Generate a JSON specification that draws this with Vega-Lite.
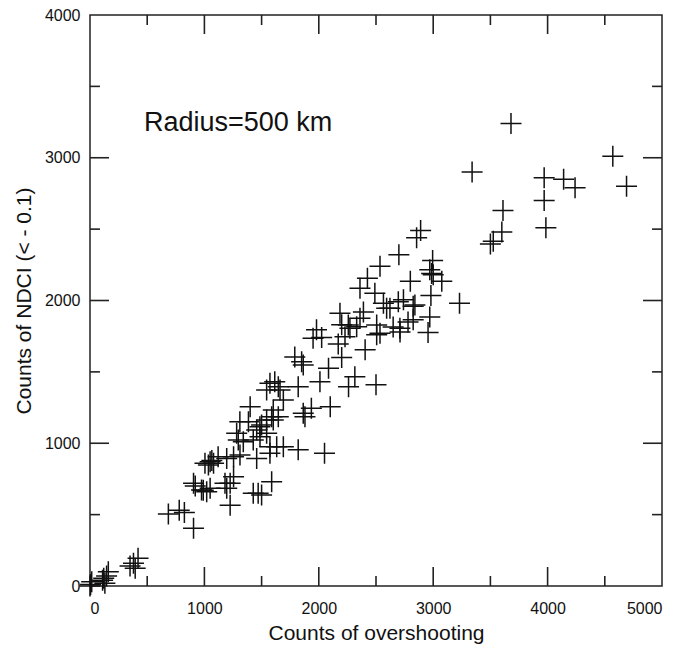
{
  "$schema": "https://vega.github.io/schema/vega-lite/v6.json",
  "width": 572,
  "height": 571,
  "autosize": {"type": "none"},
  "padding": {"left": 90, "top": 15, "right": 16, "bottom": 59},
  "background": "white",
  "config": {
    "view": {"stroke": "#222", "strokeWidth": 1.5},
    "font": "Liberation Sans",
    "axis": {"domain": false, "grid": false, "ticks": false, "labelColor": "#111", "titleColor": "#111", "labelFont": "Liberation Sans", "titleFont": "Liberation Sans", "titleFontWeight": "normal"},
    "rule": {"stroke": "#222", "strokeWidth": 1.6}
  },
  "datasets": {
    "pts": [
      {"x":0,"y":0},{"x":5,"y":10},{"x":15,"y":30},{"x":110,"y":40},{"x":120,"y":55},{"x":130,"y":20},{"x":145,"y":70},{"x":160,"y":100},
      {"x":350,"y":140},{"x":380,"y":160},{"x":395,"y":125},{"x":420,"y":195},
      {"x":685,"y":505},{"x":780,"y":530},{"x":825,"y":515},{"x":905,"y":405},
      {"x":905,"y":720},{"x":920,"y":700},{"x":975,"y":672},{"x":1020,"y":660},{"x":1050,"y":685},{"x":990,"y":670},
      {"x":1035,"y":848},{"x":1050,"y":870},{"x":1005,"y":860},{"x":1065,"y":880},{"x":1080,"y":860},{"x":1120,"y":905},{"x":1195,"y":894},{"x":1255,"y":906},
      {"x":1180,"y":720},{"x":1195,"y":685},{"x":1225,"y":720},{"x":1255,"y":765},{"x":1225,"y":565},
      {"x":1310,"y":1150},{"x":1385,"y":1150},{"x":1400,"y":1255},{"x":1485,"y":1115},{"x":1457,"y":1093},{"x":1500,"y":1128},{"x":1296,"y":1023},{"x":1427,"y":1023},{"x":1486,"y":1046},{"x":1282,"y":1070},{"x":1340,"y":1011},{"x":1311,"y":918},{"x":1457,"y":894},
      {"x":1544,"y":1070},{"x":1544,"y":1163},{"x":1602,"y":1163},{"x":1602,"y":1233},{"x":1646,"y":1186},{"x":1588,"y":1186},
      {"x":1544,"y":1373},{"x":1573,"y":1420},{"x":1615,"y":1430},{"x":1646,"y":1396},{"x":1661,"y":1373},{"x":1690,"y":1303},{"x":1820,"y":1395},
      {"x":1573,"y":976},{"x":1632,"y":976},{"x":1690,"y":975},{"x":1820,"y":955},{"x":1573,"y":930},
      {"x":1588,"y":731},{"x":1470,"y":650},{"x":1427,"y":649},{"x":1500,"y":637},
      {"x":1790,"y":1605},{"x":1850,"y":1571},{"x":1864,"y":1548},
      {"x":1935,"y":1245},{"x":1864,"y":1210},{"x":1879,"y":1186},
      {"x":1950,"y":1735},{"x":1980,"y":1795},{"x":2025,"y":1740},{"x":2085,"y":1525},{"x":2010,"y":1430},{"x":2100,"y":1255},{"x":2050,"y":930},{"x":2170,"y":1695},{"x":2200,"y":1600},{"x":2229,"y":1746},{"x":2185,"y":1910},{"x":2200,"y":1830},{"x":2258,"y":1828},{"x":2272,"y":1805},{"x":2315,"y":1465},{"x":2260,"y":1395},{"x":2405,"y":1655},{"x":2331,"y":1816},{"x":2360,"y":1875},{"x":2390,"y":1920},{"x":2360,"y":2085},{"x":2425,"y":2155},{"x":2490,"y":2050},{"x":2500,"y":1410},{"x":2506,"y":1828},{"x":2506,"y":1760},{"x":2535,"y":2240},{"x":2535,"y":1770},{"x":2565,"y":1980},{"x":2593,"y":1945},{"x":2622,"y":1945},{"x":2650,"y":1815},{"x":2695,"y":1992},{"x":2700,"y":2320},{"x":2709,"y":1805},{"x":2710,"y":1780},{"x":2740,"y":2005},{"x":2780,"y":1850},{"x":2800,"y":2135},{"x":2825,"y":1960},{"x":2825,"y":1865},{"x":2840,"y":1968},{"x":2855,"y":2440},{"x":2890,"y":2490},{"x":2955,"y":1775},{"x":2970,"y":1885},{"x":2970,"y":2215},{"x":2980,"y":2035},{"x":2986,"y":2190},{"x":2995,"y":2280},{"x":3000,"y":2180},{"x":3075,"y":2135},{"x":3230,"y":1980},
      {"x":3340,"y":2900},{"x":3500,"y":2395},{"x":3525,"y":2415},{"x":3600,"y":2480},{"x":3610,"y":2630},{"x":3680,"y":3240},{"x":3970,"y":2860},{"x":3970,"y":2700},{"x":3985,"y":2510},{"x":4140,"y":2850},{"x":4240,"y":2790},{"x":4570,"y":3010},{"x":4690,"y":2800}
    ],
    "note": [{"x": 472, "y": 3187, "label": "Radius=500 km"}],
    "xmajor": [{"v": 1000}, {"v": 2000}, {"v": 3000}, {"v": 4000}],
    "xminor": [{"v": 500}, {"v": 1500}, {"v": 2500}, {"v": 3500}, {"v": 4500}],
    "ymajor": [{"v": 1000}, {"v": 2000}, {"v": 3000}],
    "yminor": [{"v": 500}, {"v": 1500}, {"v": 2500}, {"v": 3500}]
  },
  "layer": [
    {
      "data": {"name": "xmajor"},
      "mark": {"type": "rule"},
      "encoding": {
        "x": {"field": "v", "type": "quantitative", "scale": {"domain": [0, 5000], "nice": false, "zero": false},
          "axis": {"orient": "bottom", "values": [0, 1000, 2000, 3000, 4000, 5000], "format": "d", "labelPadding": 14, "labelFontSize": 16, "title": "Counts of overshooting", "titleFontSize": 21, "titlePadding": 6}},
        "y": {"datum": 0, "type": "quantitative", "scale": {"domain": [0, 4000], "nice": false, "zero": false},
          "axis": {"orient": "left", "values": [0, 1000, 2000, 3000, 4000], "format": "d", "labelPadding": 10, "labelFontSize": 16, "title": "Counts of NDCI (< - 0.1)", "titleFontSize": 21, "titlePadding": 10}},
        "y2": {"datum": 133}
      }
    },
    {
      "data": {"name": "xmajor"},
      "mark": {"type": "rule"},
      "encoding": {
        "x": {"field": "v", "type": "quantitative"},
        "y": {"datum": 4000, "type": "quantitative"},
        "y2": {"datum": 3867}
      }
    },
    {
      "data": {"name": "xminor"},
      "mark": {"type": "rule"},
      "encoding": {
        "x": {"field": "v", "type": "quantitative"},
        "y": {"datum": 0, "type": "quantitative"},
        "y2": {"datum": 70}
      }
    },
    {
      "data": {"name": "xminor"},
      "mark": {"type": "rule"},
      "encoding": {
        "x": {"field": "v", "type": "quantitative"},
        "y": {"datum": 4000, "type": "quantitative"},
        "y2": {"datum": 3930}
      }
    },
    {
      "data": {"name": "ymajor"},
      "mark": {"type": "rule"},
      "encoding": {
        "y": {"field": "v", "type": "quantitative"},
        "x": {"datum": 0, "type": "quantitative"},
        "x2": {"datum": 166}
      }
    },
    {
      "data": {"name": "ymajor"},
      "mark": {"type": "rule"},
      "encoding": {
        "y": {"field": "v", "type": "quantitative"},
        "x": {"datum": 5000, "type": "quantitative"},
        "x2": {"datum": 4834}
      }
    },
    {
      "data": {"name": "yminor"},
      "mark": {"type": "rule"},
      "encoding": {
        "y": {"field": "v", "type": "quantitative"},
        "x": {"datum": 0, "type": "quantitative"},
        "x2": {"datum": 87}
      }
    },
    {
      "data": {"name": "yminor"},
      "mark": {"type": "rule"},
      "encoding": {
        "y": {"field": "v", "type": "quantitative"},
        "x": {"datum": 5000, "type": "quantitative"},
        "x2": {"datum": 4913}
      }
    },
    {
      "data": {"name": "pts"},
      "mark": {"type": "point", "shape": "M-1,0L1,0M0,-1L0,1", "filled": false, "stroke": "#111", "strokeWidth": 1.5, "size": 441, "opacity": 1},
      "encoding": {
        "x": {"field": "x", "type": "quantitative"},
        "y": {"field": "y", "type": "quantitative"}
      }
    },
    {
      "data": {"name": "note"},
      "mark": {"type": "text", "align": "left", "baseline": "alphabetic", "fontSize": 27, "font": "Liberation Sans", "color": "#111"},
      "encoding": {
        "x": {"field": "x", "type": "quantitative"},
        "y": {"field": "y", "type": "quantitative"},
        "text": {"field": "label"}
      }
    }
  ]
}
